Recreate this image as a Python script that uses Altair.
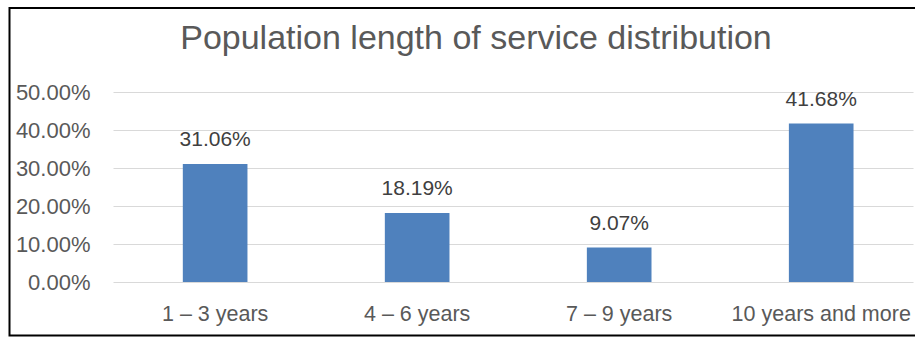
import altair as alt
import pandas as pd

categories = ["1 – 3 years", "4 – 6 years", "7 – 9 years", "10 years and more"]
shares = [0.3106, 0.1819, 0.0907, 0.4168]
labels = ["31.06%", "18.19%", "9.07%", "41.68%"]
tick_values = [0.0, 0.1, 0.2, 0.3, 0.4, 0.5]

df = pd.DataFrame({"cat": categories, "share": shares, "label": labels})

FONT = "Liberation Sans"
GREY = "#595959"

x = alt.X(
    "cat:N", sort=categories, title=None,
    scale=alt.Scale(paddingInner=0.68, paddingOuter=0.32, align=0.54),
    axis=alt.Axis(labelAngle=0, ticks=False, domain=False, grid=False,
                  labelPadding=21, labelFontSize=21.5, labelColor=GREY,
                  labelFont=FONT, labelLimit=400, labelOverlap=False),
)
y = alt.Y(
    "share:Q", title=None,
    scale=alt.Scale(domain=[0, 0.5], nice=False),
    axis=alt.Axis(format=".2%", values=tick_values, ticks=False, domain=False,
                  labelPadding=23, labelFontSize=22, labelColor=GREY,
                  labelFont=FONT, labelOverlap=False, tickCount=6,
                  gridColor="#d9d9d9", gridWidth=1.2),
)

base = alt.Chart(df)
bars = base.mark_bar(color="#4F81BD").encode(x=x, y=y)
text = base.mark_text(baseline="alphabetic", dy=-18, fontSize=21,
                      font=FONT, color="#404040").encode(
    x=x, y=y, text="label:N")

frame = alt.Chart(pd.DataFrame({"a": [0]})).mark_rect(
    filled=False, stroke="#000000", strokeWidth=2, clip=False
).encode(x=alt.value(-103.5), x2=alt.value(830), y=alt.value(-84),
         y2=alt.value(243.5))

chart = alt.layer(bars, text, frame).properties(
    width=800, height=190,
    background="white",
    title=alt.TitleParams(
        "Population length of service distribution",
        font=FONT, fontSize=34, fontWeight="normal", color=GREY,
        anchor="middle", frame="group", dx=-37, offset=-76,
        baseline="alphabetic",
    ),
    autosize=alt.AutoSizeParams(type="none"),
    padding={"left": 113, "top": 92, "right": 2, "bottom": 56},
).configure_view(stroke=None)

chart.save("out.html", embed_options={"renderer": "svg", "actions": False})
